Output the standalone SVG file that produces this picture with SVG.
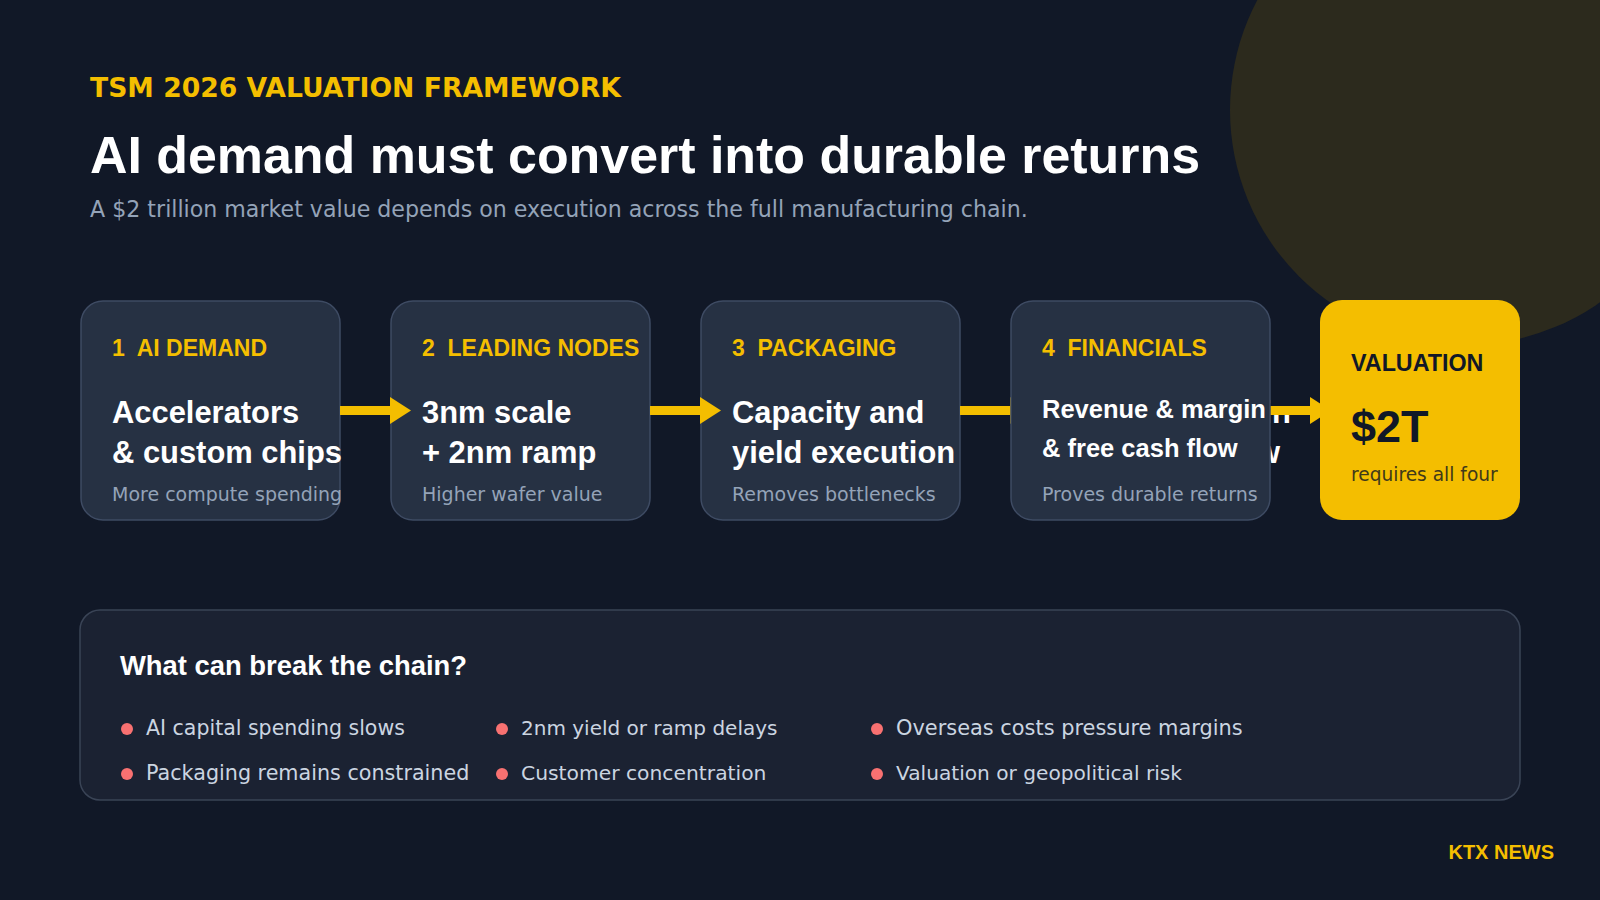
<svg xmlns="http://www.w3.org/2000/svg" width="1600" height="900" viewBox="0 0 1600 900">
  <defs>
    <style>
      .bold { font-family: "Liberation Sans", Arial, sans-serif; font-weight: 700; }
      .reg { font-family: "DejaVu Sans", sans-serif; font-weight: 400; }
      .card { fill: #263143; stroke: #3e4b63; stroke-width: 1.5; }
      .lbl { fill: #f4be00; font-size: 23px; }
      .main { fill: #ffffff; font-size: 30.9px; }
      .sub { fill: #94a3b8; font-size: 19px; }
      .conn { stroke: #f4be00; stroke-width: 9; fill: none; }
      .dot { fill: #f87171; }
      .risk { fill: #cbd5e1; font-size: 20.5px; }
    </style>
    <marker id="arrow" markerUnits="userSpaceOnUse" markerWidth="21" markerHeight="27" refX="0" refY="13.5" orient="auto">
      <path d="M0,0 L21,13.5 L0,27 Z" fill="#f4be00"/>
    </marker>
  </defs>

  <rect x="0" y="0" width="1600" height="900" fill="#111827"/>
  <circle cx="1465" cy="110" r="235" fill="#2c2a1d"/>

  <g id="header">
    <text x="90" y="97" font-family="DejaVu Sans, sans-serif" font-weight="700" font-size="26.65" fill="#f4be00">TSM 2026 VALUATION FRAMEWORK</text>
    <text x="90" y="173" class="bold" font-size="51.9" fill="#ffffff">AI demand must convert into durable returns</text>
    <text x="90" y="217" class="reg" font-size="22.14" fill="#94a3b8">A $2 trillion market value depends on execution across the full manufacturing chain.</text>
  </g>

  <g id="node-ai-demand">
    <rect class="card" x="81" y="301" width="259" height="219" rx="22"/>
    <text class="bold lbl" x="112" y="356" xml:space="preserve">1  AI DEMAND</text>
    <text class="bold main" x="112" y="423">Accelerators</text>
    <text class="bold main" x="112" y="463">&amp; custom chips</text>
    <text class="reg sub" x="112" y="501">More compute spending</text>
  </g>

  <g id="node-leading-nodes">
    <rect class="card" x="391" y="301" width="259" height="219" rx="22"/>
    <text class="bold lbl" x="422" y="356" xml:space="preserve">2  LEADING NODES</text>
    <text class="bold main" x="422" y="423">3nm scale</text>
    <text class="bold main" x="422" y="463">+ 2nm ramp</text>
    <text class="reg sub" x="422" y="501">Higher wafer value</text>
  </g>

  <g id="node-packaging">
    <rect class="card" x="701" y="301" width="259" height="219" rx="22"/>
    <text class="bold lbl" x="732" y="356" xml:space="preserve">3  PACKAGING</text>
    <text class="bold main" x="732" y="423">Capacity and</text>
    <text class="bold main" x="732" y="463">yield execution</text>
    <text class="reg sub" x="732" y="501">Removes bottlenecks</text>
  </g>

  <g id="node-financials-overflow">
    <text class="bold main" x="1291" y="423" text-anchor="end">Revenue &amp; margin</text>
    <text class="bold main" x="1280" y="463" text-anchor="end">&amp; free cash flow</text>
  </g>

  <g id="connectors">
    <line class="conn" x1="340" y1="410.5" x2="390" y2="410.5" marker-end="url(#arrow)"/>
    <line class="conn" x1="650" y1="410.5" x2="700" y2="410.5" marker-end="url(#arrow)"/>
    <line class="conn" x1="960" y1="410.5" x2="1010" y2="410.5" marker-end="url(#arrow)"/>
    <line class="conn" x1="1270" y1="410.5" x2="1310" y2="410.5" marker-end="url(#arrow)"/>
  </g>

  <g id="node-financials">
    <rect class="card" x="1011" y="301" width="259" height="219" rx="22"/>
    <text class="bold lbl" x="1042" y="356" xml:space="preserve">4  FINANCIALS</text>
    <text class="bold" x="1042" y="418" font-size="25.5" fill="#ffffff">Revenue &amp; margin</text>
    <text class="bold" x="1042" y="457" font-size="25.5" fill="#ffffff">&amp; free cash flow</text>
    <text class="reg sub" x="1042" y="501">Proves durable returns</text>
  </g>

  <g id="node-valuation">
    <rect x="1320" y="300" width="200" height="220" rx="22" fill="#f4be00"/>
    <text class="bold" x="1351" y="371" font-size="23.3" fill="#111827">VALUATION</text>
    <text class="bold" x="1351" y="442" font-size="45" fill="#111827">$2T</text>
    <text class="reg" x="1351" y="481" font-size="18.6" fill="#40391a">requires all four</text>
  </g>

  <g id="risks">
    <rect x="80" y="610" width="1440" height="190" rx="20" fill="#1b2232" stroke="#3a4456" stroke-width="1.5"/>
    <text class="bold" x="120" y="675" font-size="27.4" fill="#ffffff">What can break the chain?</text>
    <circle class="dot" cx="127" cy="729" r="6"/>
    <text class="reg risk" x="146" y="735">AI capital spending slows</text>
    <circle class="dot" cx="127" cy="774" r="6"/>
    <text class="reg risk" x="146" y="780" style="font-size:20.7px">Packaging remains constrained</text>
    <circle class="dot" cx="502" cy="729" r="6"/>
    <text class="reg risk" x="521" y="735" style="font-size:20px">2nm yield or ramp delays</text>
    <circle class="dot" cx="502" cy="774" r="6"/>
    <text class="reg risk" x="521" y="780" style="font-size:20.3px">Customer concentration</text>
    <circle class="dot" cx="877" cy="729" r="6"/>
    <text class="reg risk" x="896" y="735" style="font-size:20.9px">Overseas costs pressure margins</text>
    <circle class="dot" cx="877" cy="774" r="6"/>
    <text class="reg risk" x="896" y="780" style="font-size:20.15px">Valuation or geopolitical risk</text>
  </g>

  <g id="footer">
    <text class="bold" x="1554" y="859" font-size="20" fill="#f4be00" text-anchor="end">KTX NEWS</text>
  </g>
</svg>
